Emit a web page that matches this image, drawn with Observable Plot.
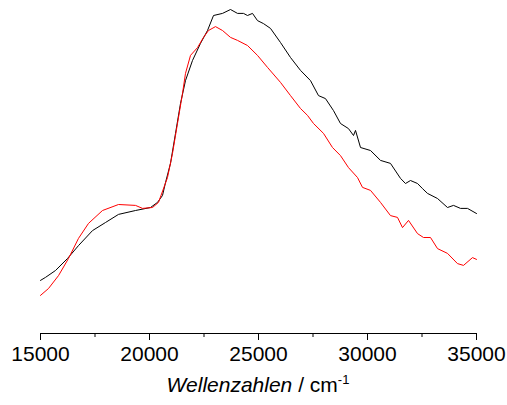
<!DOCTYPE html>
<html>
<head>
<meta charset="utf-8">
<script src="https://cdn.jsdelivr.net/npm/d3@7"></script>
<script src="https://cdn.jsdelivr.net/npm/@observablehq/plot@0.6"></script>
<style>
  html, body { margin: 0; padding: 0; background: #fff; }
  #chart svg { display: block; }
</style>
</head>
<body>
<div id="chart"></div>
<script>
// Wavenumbers (cm^-1) and relative intensities
const blackX = [15000,15229,15688,16239,16743,17385,17982,18578,19358,20046,20367,20596,20734,20963,21193,21422,21651,21972,22339,22661,22936,23349,23716,24037,24312,24495,24725,24954,25229,25550,26009,26468,26927,27385,27752,28073,28440,28761,29128,29358,29450,29679,30138,30596,31055,31514,31743,31972,32294,32523,32752,33211,33670,33945,34266,34587,35000];
const blackY = [0.177,0.187,0.210,0.250,0.293,0.343,0.370,0.397,0.410,0.420,0.437,0.460,0.503,0.567,0.667,0.767,0.843,0.910,0.967,1.010,1.060,1.067,1.080,1.067,1.067,1.060,1.067,1.043,1.033,1.017,0.970,0.920,0.877,0.843,0.793,0.783,0.743,0.700,0.683,0.660,0.677,0.620,0.610,0.577,0.567,0.517,0.500,0.510,0.500,0.483,0.467,0.450,0.420,0.427,0.417,0.417,0.400];

const redX = [15000,15367,15826,16284,16743,17202,17844,18578,19358,19679,20138,20413,20826,21055,21284,21514,21651,21881,22202,22477,22706,23028,23349,23716,24037,24495,24954,25413,26009,26468,26927,27248,27523,27982,28394,28761,29128,29541,29771,30138,30596,31055,31376,31606,31881,32294,32569,32890,33211,33670,34128,34404,34817,35000];
const redY = [0.127,0.150,0.193,0.250,0.317,0.367,0.410,0.430,0.427,0.417,0.420,0.437,0.520,0.600,0.700,0.800,0.867,0.927,0.953,0.987,1.010,1.023,1.010,0.987,0.977,0.960,0.927,0.887,0.837,0.793,0.750,0.727,0.700,0.667,0.620,0.593,0.553,0.520,0.487,0.477,0.437,0.393,0.387,0.353,0.377,0.333,0.320,0.320,0.283,0.267,0.233,0.227,0.253,0.247];

const majorTicks = [15000, 20000, 25000, 30000, 35000];
const minorTicks = [17500, 22500, 27500, 32500];

const black = blackX.map((x, i) => ({x, y: blackY[i]}));
const red = redX.map((x, i) => ({x, y: redY[i]}));

const chart = Plot.plot({
  width: 507,
  height: 405,
  marginLeft: 40,
  marginRight: 31,
  marginTop: 33,
  marginBottom: 72,
  style: {fontFamily: "'Liberation Sans', Arial, sans-serif", fontSize: "21px", color: "#000", background: "#fff"},
  x: {domain: [15000, 35000]},
  y: {domain: [0, 1], axis: null},
  marks: [
    Plot.ruleY([0], {stroke: "#000", strokeWidth: 1}),
    Plot.axisX({ticks: minorTicks, tickSize: 4, tickFormat: () => "", label: null, stroke: "#000"}),
    Plot.axisX({ticks: majorTicks, tickSize: 7, tickPadding: 6, tickFormat: d => String(d), label: null, fontSize: 21, stroke: "#000", fill: "#000"}),
    Plot.line(black, {x: "x", y: "y", stroke: "#000", strokeWidth: 1, curve: "linear"}),
    Plot.line(red, {x: "x", y: "y", stroke: "#ff0000", strokeWidth: 1, curve: "linear"})
  ]
});

document.getElementById("chart").appendChild(chart);

// axis title with mixed styling
const svg = d3.select(chart);
const t = svg.append("text")
  .attr("x", 258)
  .attr("y", 392)
  .attr("text-anchor", "middle")
  .attr("fill", "#000")
  .style("font-family", "'Liberation Sans', Arial, sans-serif")
  .style("font-size", "21px");
t.append("tspan").style("font-style", "italic").text("Wellenzahlen");
t.append("tspan").text(" / cm");
t.append("tspan").attr("dy", "-8").style("font-size", "13px").text("-1");
</script>
</body>
</html>
